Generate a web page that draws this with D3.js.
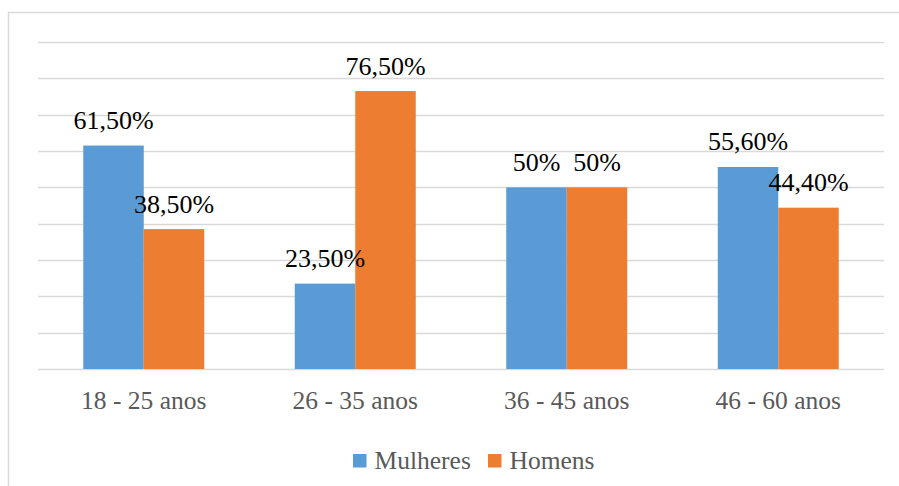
<!DOCTYPE html>
<html>
<head>
<meta charset="utf-8">
<script src="https://cdn.jsdelivr.net/npm/d3@7"></script>
<style>
  body { margin: 0; background: #fff; }
  svg { display: block; }
  text { font-family: "Liberation Serif", "Times New Roman", serif; }
</style>
</head>
<body>
<div id="chart"></div>
<script>
const categories = ["18 - 25 anos", "26 - 35 anos", "36 - 45 anos", "46 - 60 anos"];
const seriesNames = ["Mulheres", "Homens"];
const mulheres = [61.5, 23.5, 50, 55.6];
const homens = [38.5, 76.5, 50, 44.4];
const labelsMulheres = ["61,50%", "23,50%", "50%", "55,60%"];
const labelsHomens = ["38,50%", "76,50%", "50%", "44,40%"];
const gridTicks = [0, 10, 20, 30, 40, 50, 60, 70, 80, 90];

const colors = ["#5b9bd5", "#ed7d31"];
const width = 899, height = 486;

const svg = d3.select("#chart").append("svg").attr("width", width).attr("height", height);

// chart border
svg.append("rect").attr("x", 8.5).attr("y", 12.5).attr("width", 900).attr("height", 480)
  .attr("fill", "none").attr("stroke", "#d9d9d9").attr("stroke-width", 1.5);

const plotL = 38, plotR = 884;
const y = d3.scaleLinear().domain([0, 90]).range([369, 42]);
const x = d3.scaleBand().domain(categories).range([plotL, plotR]).paddingInner(0.428).paddingOuter(0.214);
const xs = d3.scaleBand().domain(seriesNames).range([0, x.bandwidth()]);

svg.append("g").selectAll("line").data(gridTicks).join("line")
  .attr("x1", plotL).attr("x2", plotR)
  .attr("y1", d => Math.round(y(d)) + 0.5).attr("y2", d => Math.round(y(d)) + 0.5)
  .attr("stroke", "#d9d9d9").attr("stroke-width", 1.5);

const rows = categories.map((c, i) => ({
  cat: c,
  vals: [
    { s: "Mulheres", v: mulheres[i], label: labelsMulheres[i] },
    { s: "Homens", v: homens[i], label: labelsHomens[i] }
  ]
}));

const groups = svg.append("g").selectAll("g").data(rows).join("g")
  .attr("transform", d => `translate(${x(d.cat)},0)`);

groups.selectAll("rect").data(d => d.vals).join("rect")
  .attr("x", d => xs(d.s)).attr("width", xs.bandwidth())
  .attr("y", d => y(d.v)).attr("height", d => y(0) - y(d.v))
  .attr("fill", (d, i) => colors[i]);

groups.selectAll("text").data(d => d.vals).join("text")
  .attr("x", d => xs(d.s) + xs.bandwidth() / 2)
  .attr("y", d => y(d.v) - 16.5)
  .attr("text-anchor", "middle")
  .style("font-size", "26px").attr("fill", "#000")
  .text(d => d.label);

// category axis labels
svg.append("g").selectAll("text").data(categories).join("text")
  .attr("x", d => x(d) + x.bandwidth() / 2).attr("y", 409)
  .attr("text-anchor", "middle")
  .style("font-size", "25.5px").attr("fill", "#595959")
  .text(d => d);

// legend
const legend = svg.append("g");
const legendX = [353, 488];
seriesNames.forEach((s, i) => {
  legend.append("rect").attr("x", legendX[i]).attr("y", 454).attr("width", 13.5).attr("height", 13.5).attr("fill", colors[i]);
  legend.append("text").attr("x", legendX[i] + 21.5).attr("y", 469)
    .style("font-size", "25.5px").attr("fill", "#595959").text(s);
});
</script>
</body>
</html>
